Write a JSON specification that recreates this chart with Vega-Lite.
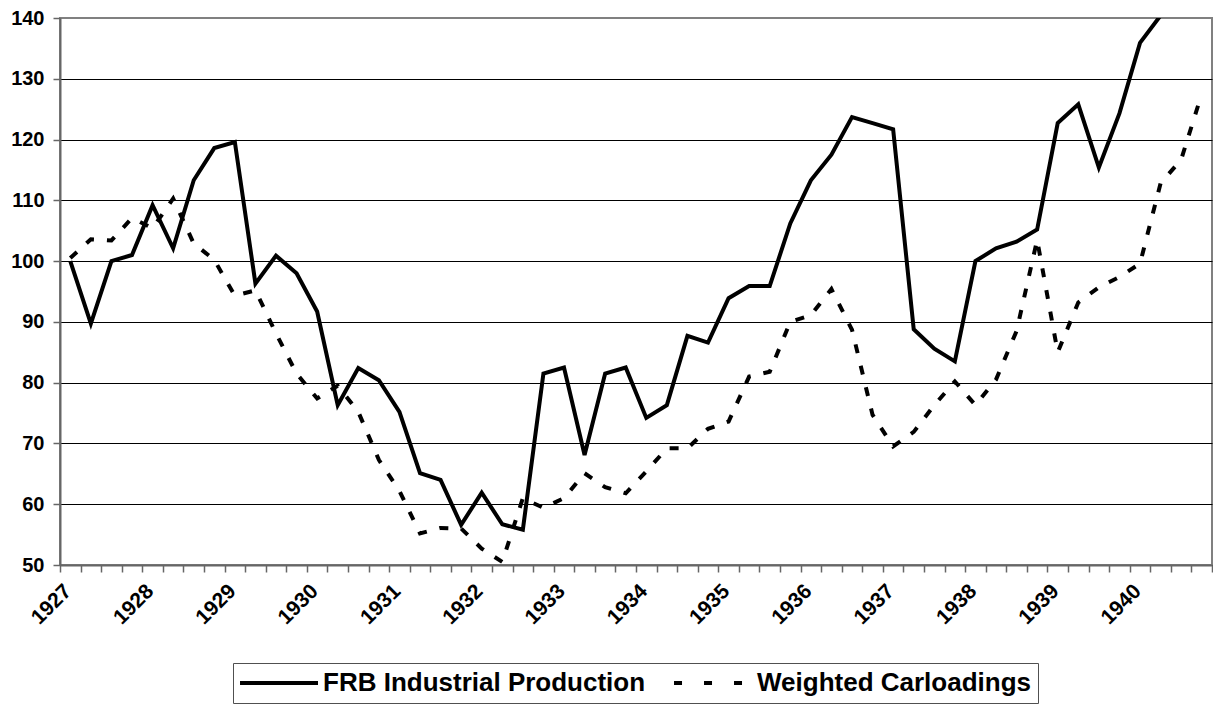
{
  "$schema": "https://vega.github.io/schema/vega-lite/v6.json",
  "width": 1152,
  "height": 547,
  "autosize": {"type": "none"},
  "padding": {"left": 60, "top": 18, "right": 1, "bottom": 140},
  "background": "white",
  "config": {
    "view": {"stroke": "#808080", "strokeWidth": 2},
    "font": "Liberation Sans"
  },
  "data": {
    "values": [
      {"t": 1927.125, "series": "FRB Industrial Production", "value": 100},
      {"t": 1927.375, "series": "FRB Industrial Production", "value": 89.7},
      {"t": 1927.625, "series": "FRB Industrial Production", "value": 100},
      {"t": 1927.875, "series": "FRB Industrial Production", "value": 101},
      {"t": 1928.125, "series": "FRB Industrial Production", "value": 109.2},
      {"t": 1928.375, "series": "FRB Industrial Production", "value": 102.1},
      {"t": 1928.625, "series": "FRB Industrial Production", "value": 113.3},
      {"t": 1928.875, "series": "FRB Industrial Production", "value": 118.6},
      {"t": 1929.125, "series": "FRB Industrial Production", "value": 119.6},
      {"t": 1929.375, "series": "FRB Industrial Production", "value": 96.3},
      {"t": 1929.625, "series": "FRB Industrial Production", "value": 100.9},
      {"t": 1929.875, "series": "FRB Industrial Production", "value": 98},
      {"t": 1930.125, "series": "FRB Industrial Production", "value": 91.7},
      {"t": 1930.375, "series": "FRB Industrial Production", "value": 76.3},
      {"t": 1930.625, "series": "FRB Industrial Production", "value": 82.4},
      {"t": 1930.875, "series": "FRB Industrial Production", "value": 80.4},
      {"t": 1931.125, "series": "FRB Industrial Production", "value": 75.2},
      {"t": 1931.375, "series": "FRB Industrial Production", "value": 65.1},
      {"t": 1931.625, "series": "FRB Industrial Production", "value": 64},
      {"t": 1931.875, "series": "FRB Industrial Production", "value": 56.6},
      {"t": 1932.125, "series": "FRB Industrial Production", "value": 61.9},
      {"t": 1932.375, "series": "FRB Industrial Production", "value": 56.7},
      {"t": 1932.625, "series": "FRB Industrial Production", "value": 55.8},
      {"t": 1932.875, "series": "FRB Industrial Production", "value": 81.5},
      {"t": 1933.125, "series": "FRB Industrial Production", "value": 82.5},
      {"t": 1933.375, "series": "FRB Industrial Production", "value": 68.1},
      {"t": 1933.625, "series": "FRB Industrial Production", "value": 81.5},
      {"t": 1933.875, "series": "FRB Industrial Production", "value": 82.5},
      {"t": 1934.125, "series": "FRB Industrial Production", "value": 74.2},
      {"t": 1934.375, "series": "FRB Industrial Production", "value": 76.3},
      {"t": 1934.625, "series": "FRB Industrial Production", "value": 87.7},
      {"t": 1934.875, "series": "FRB Industrial Production", "value": 86.6},
      {"t": 1935.125, "series": "FRB Industrial Production", "value": 93.9},
      {"t": 1935.375, "series": "FRB Industrial Production", "value": 95.9},
      {"t": 1935.625, "series": "FRB Industrial Production", "value": 95.9},
      {"t": 1935.875, "series": "FRB Industrial Production", "value": 106.2},
      {"t": 1936.125, "series": "FRB Industrial Production", "value": 113.3},
      {"t": 1936.375, "series": "FRB Industrial Production", "value": 117.5},
      {"t": 1936.625, "series": "FRB Industrial Production", "value": 123.7},
      {"t": 1936.875, "series": "FRB Industrial Production", "value": 122.7},
      {"t": 1937.125, "series": "FRB Industrial Production", "value": 121.7},
      {"t": 1937.375, "series": "FRB Industrial Production", "value": 88.8},
      {"t": 1937.625, "series": "FRB Industrial Production", "value": 85.6},
      {"t": 1937.875, "series": "FRB Industrial Production", "value": 83.5},
      {"t": 1938.125, "series": "FRB Industrial Production", "value": 100},
      {"t": 1938.375, "series": "FRB Industrial Production", "value": 102.1},
      {"t": 1938.625, "series": "FRB Industrial Production", "value": 103.2},
      {"t": 1938.875, "series": "FRB Industrial Production", "value": 105.2},
      {"t": 1939.125, "series": "FRB Industrial Production", "value": 122.7},
      {"t": 1939.375, "series": "FRB Industrial Production", "value": 125.8},
      {"t": 1939.625, "series": "FRB Industrial Production", "value": 115.4},
      {"t": 1939.875, "series": "FRB Industrial Production", "value": 124.3},
      {"t": 1940.125, "series": "FRB Industrial Production", "value": 135.9},
      {"t": 1940.375, "series": "FRB Industrial Production", "value": 140.4},
      {"t": 1940.625, "series": "FRB Industrial Production", "value": 146},
      {"t": 1940.875, "series": "FRB Industrial Production", "value": 149},
      {"t": 1927.125, "series": "Weighted Carloadings", "value": 100.5},
      {"t": 1927.375, "series": "Weighted Carloadings", "value": 103.6},
      {"t": 1927.625, "series": "Weighted Carloadings", "value": 103.4},
      {"t": 1927.875, "series": "Weighted Carloadings", "value": 107.1},
      {"t": 1928.125, "series": "Weighted Carloadings", "value": 105.4},
      {"t": 1928.375, "series": "Weighted Carloadings", "value": 110.3},
      {"t": 1928.625, "series": "Weighted Carloadings", "value": 102.9},
      {"t": 1928.875, "series": "Weighted Carloadings", "value": 100.2},
      {"t": 1929.125, "series": "Weighted Carloadings", "value": 94.3},
      {"t": 1929.375, "series": "Weighted Carloadings", "value": 95.2},
      {"t": 1929.625, "series": "Weighted Carloadings", "value": 88.1},
      {"t": 1929.875, "series": "Weighted Carloadings", "value": 81.5},
      {"t": 1930.125, "series": "Weighted Carloadings", "value": 77.4},
      {"t": 1930.375, "series": "Weighted Carloadings", "value": 79.5},
      {"t": 1930.625, "series": "Weighted Carloadings", "value": 75.2},
      {"t": 1930.875, "series": "Weighted Carloadings", "value": 67.3},
      {"t": 1931.125, "series": "Weighted Carloadings", "value": 62.2},
      {"t": 1931.375, "series": "Weighted Carloadings", "value": 55.2},
      {"t": 1931.625, "series": "Weighted Carloadings", "value": 56.1},
      {"t": 1931.875, "series": "Weighted Carloadings", "value": 56},
      {"t": 1932.125, "series": "Weighted Carloadings", "value": 52.7},
      {"t": 1932.375, "series": "Weighted Carloadings", "value": 50.5},
      {"t": 1932.625, "series": "Weighted Carloadings", "value": 61},
      {"t": 1932.875, "series": "Weighted Carloadings", "value": 59.4},
      {"t": 1933.125, "series": "Weighted Carloadings", "value": 61},
      {"t": 1933.375, "series": "Weighted Carloadings", "value": 65.1},
      {"t": 1933.625, "series": "Weighted Carloadings", "value": 62.8},
      {"t": 1933.875, "series": "Weighted Carloadings", "value": 61.8},
      {"t": 1934.125, "series": "Weighted Carloadings", "value": 65.4},
      {"t": 1934.375, "series": "Weighted Carloadings", "value": 69.2},
      {"t": 1934.625, "series": "Weighted Carloadings", "value": 69.2},
      {"t": 1934.875, "series": "Weighted Carloadings", "value": 72.4},
      {"t": 1935.125, "series": "Weighted Carloadings", "value": 73.6},
      {"t": 1935.375, "series": "Weighted Carloadings", "value": 81},
      {"t": 1935.625, "series": "Weighted Carloadings", "value": 81.8},
      {"t": 1935.875, "series": "Weighted Carloadings", "value": 90},
      {"t": 1936.125, "series": "Weighted Carloadings", "value": 91.1},
      {"t": 1936.375, "series": "Weighted Carloadings", "value": 95.4},
      {"t": 1936.625, "series": "Weighted Carloadings", "value": 88.7},
      {"t": 1936.875, "series": "Weighted Carloadings", "value": 74.7},
      {"t": 1937.125, "series": "Weighted Carloadings", "value": 69.5},
      {"t": 1937.375, "series": "Weighted Carloadings", "value": 71.9},
      {"t": 1937.625, "series": "Weighted Carloadings", "value": 76.3},
      {"t": 1937.875, "series": "Weighted Carloadings", "value": 80.2},
      {"t": 1938.125, "series": "Weighted Carloadings", "value": 76.3},
      {"t": 1938.375, "series": "Weighted Carloadings", "value": 80.5},
      {"t": 1938.625, "series": "Weighted Carloadings", "value": 88.5},
      {"t": 1938.875, "series": "Weighted Carloadings", "value": 103.5},
      {"t": 1939.125, "series": "Weighted Carloadings", "value": 85},
      {"t": 1939.375, "series": "Weighted Carloadings", "value": 93.2},
      {"t": 1939.625, "series": "Weighted Carloadings", "value": 95.7},
      {"t": 1939.875, "series": "Weighted Carloadings", "value": 97.4},
      {"t": 1940.125, "series": "Weighted Carloadings", "value": 99.6},
      {"t": 1940.375, "series": "Weighted Carloadings", "value": 112.8},
      {"t": 1940.625, "series": "Weighted Carloadings", "value": 116.7},
      {"t": 1940.875, "series": "Weighted Carloadings", "value": 127.5}
    ]
  },
  "encoding": {
    "x": {
      "field": "t",
      "type": "quantitative",
      "scale": {"domain": [1927, 1941], "nice": false, "zero": false},
      "axis": {
        "title": null,
        "grid": false,
        "values": [1927, 1927.25, 1927.5, 1927.75, 1928, 1928.25, 1928.5, 1928.75, 1929, 1929.25, 1929.5, 1929.75, 1930, 1930.25, 1930.5, 1930.75, 1931, 1931.25, 1931.5, 1931.75, 1932, 1932.25, 1932.5, 1932.75, 1933, 1933.25, 1933.5, 1933.75, 1934, 1934.25, 1934.5, 1934.75, 1935, 1935.25, 1935.5, 1935.75, 1936, 1936.25, 1936.5, 1936.75, 1937, 1937.25, 1937.5, 1937.75, 1938, 1938.25, 1938.5, 1938.75, 1939, 1939.25, 1939.5, 1939.75, 1940, 1940.25, 1940.5, 1940.75, 1941],
        "labelExpr": "datum.value % 1 == 0 && datum.value < 1941 ? format(datum.value, 'd') : ''",
        "labelOverlap": false,
        "labelAngle": -45,
        "labelAlign": "right",
        "labelBaseline": "top",
        "labelPadding": 8,
        "labelDx": -8,
        "labelDy": -5,
        "labelFontSize": 21,
        "labelFontWeight": "bold",
        "labelColor": "black",
        "domainColor": "#666666",
        "domainWidth": 2,
        "tickColor": "#666666",
        "tickWidth": 1.5,
        "tickSize": 7
      }
    },
    "y": {
      "field": "value",
      "type": "quantitative",
      "scale": {"domain": [50, 140], "nice": false, "zero": false},
      "axis": {
        "title": null,
        "values": [50, 60, 70, 80, 90, 100, 110, 120, 130, 140],
        "grid": true,
        "gridColor": {"condition": {"test": "datum.value == 140", "value": "#808080"}, "value": "black"},
        "gridWidth": 1,
        "labelFontSize": 20,
        "labelFontWeight": "bold",
        "labelColor": "black",
        "labelPadding": 9,
        "domainColor": "#666666",
        "domainWidth": 2,
        "tickColor": "#666666",
        "tickWidth": 1.5,
        "tickSize": 7
      }
    }
  },
  "layer": [
    {
      "transform": [{"filter": "datum.series == 'FRB Industrial Production'"}],
      "mark": {"type": "line", "color": "black", "strokeWidth": 4, "clip": true, "strokeCap": "butt"}
    },
    {
      "transform": [{"filter": "datum.series == 'Weighted Carloadings'"}],
      "mark": {"type": "line", "color": "black", "strokeWidth": 4, "clip": true, "strokeCap": "butt", "strokeDash": [9, 13]}
    },
    {
      "transform": [{"filter": "false"}],
      "mark": {"type": "line", "color": "black", "strokeWidth": 4, "strokeCap": "butt"},
      "encoding": {
        "strokeDash": {
          "field": "series",
          "type": "nominal",
          "scale": {
            "domain": ["FRB Industrial Production", "Weighted Carloadings"],
            "range": [[1, 0], [8, 22]]
          },
          "legend": {
            "title": null,
            "orient": "none",
            "direction": "horizontal",
            "legendX": 173,
            "legendY": 645,
            "symbolType": "M-1.18,0H5.91",
            "symbolSize": 484,
            "symbolStrokeWidth": 4,
            "symbolStrokeColor": "black",
            "symbolFillColor": "transparent",
            "labelFontSize": 26,
            "labelFontWeight": "bold",
            "labelColor": "black",
            "labelOffset": 57,
            "labelLimit": 500,
            "columnPadding": 20,
            "padding": 7,
            "strokeColor": "#505050",
            "fillColor": "white"
          }
        }
      }
    }
  ]
}
